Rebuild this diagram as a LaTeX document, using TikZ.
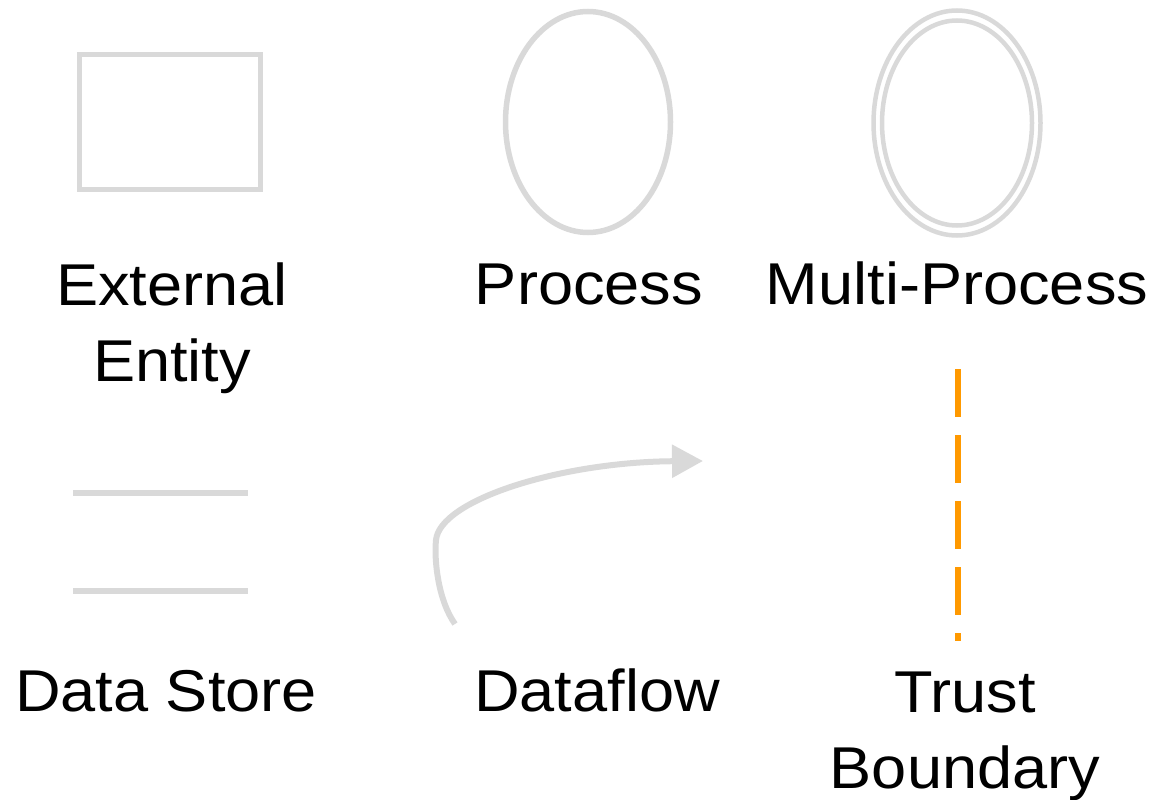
\documentclass[tikz,border=0pt]{standalone}
\usepackage{fontspec}
\newfontfamily\labfont[FakeStretch=1.07]{Liberation Sans}
\usetikzlibrary{arrows.meta,shapes.geometric}
\definecolor{shapegray}{HTML}{D9D9D9}
\definecolor{trustorange}{HTML}{FF9900}
\tikzset{
  shapeline/.style={draw=shapegray, line width=5.5pt},
  lab/.style={font=\labfont\fontsize{59}{76}\selectfont, align=center, inner sep=0pt, anchor=base},
  procell/.style={shapeline, ellipse, inner sep=0pt},
  trustline/.style={draw=trustorange, line width=6pt, dash pattern=on 48pt off 18pt},
}
\begin{document}
\begin{tikzpicture}[x=1pt,y=-1pt]
\useasboundingbox (0,0) rectangle (1156,800);
% External entity
\node[shapeline, rectangle, minimum width=181pt, minimum height=135pt, inner sep=0pt] (ee) at (170,122) {};
\node[lab] (eelab) at (172,381) {External\\Entity};
% Process
\node[procell, minimum width=165pt, minimum height=221pt] (proc) at (588,122) {};
\node[lab] (proclab) at (589,304) {Process};
% Multi-process
\node[procell, line width=4.5pt, minimum width=167pt, minimum height=225pt] (mpo) at (957,123) {};
\node[procell, line width=4.5pt, minimum width=150pt, minimum height=205pt] (mpi) at (957,123) {};
\node[lab] (mplab) at (957,304) {Multi-Process};
% Data store
\coordinate (ds1a) at (73,493);
\coordinate (ds1b) at (248,493);
\coordinate (ds2a) at (73,591);
\coordinate (ds2b) at (248,591);
\draw[shapeline] (ds1a) -- (ds1b);
\draw[shapeline] (ds2a) -- (ds2b);
\node[lab] (dslab) at (166,711) {Data Store};
% Dataflow
\coordinate (dfs) at (455,624);
\coordinate (dfm) at (436,540);
\coordinate (dfe) at (703,461);
\draw[shapeline, line width=6pt, -{Triangle[length=31pt,width=32pt]}] (dfs) .. controls (438,600) and (434,560) .. (dfm) .. controls (440,500) and (560,462) .. (dfe);
\node[lab] (dflab) at (597,711) {Dataflow};
% Trust boundary
\coordinate (tbs) at (958,369);
\coordinate (tbe) at (958,641);
\draw[trustline] (tbs) -- (tbe);
\node[lab] (tblab) at (965,788) {Trust\\Boundary};
\end{tikzpicture}
\end{document}
